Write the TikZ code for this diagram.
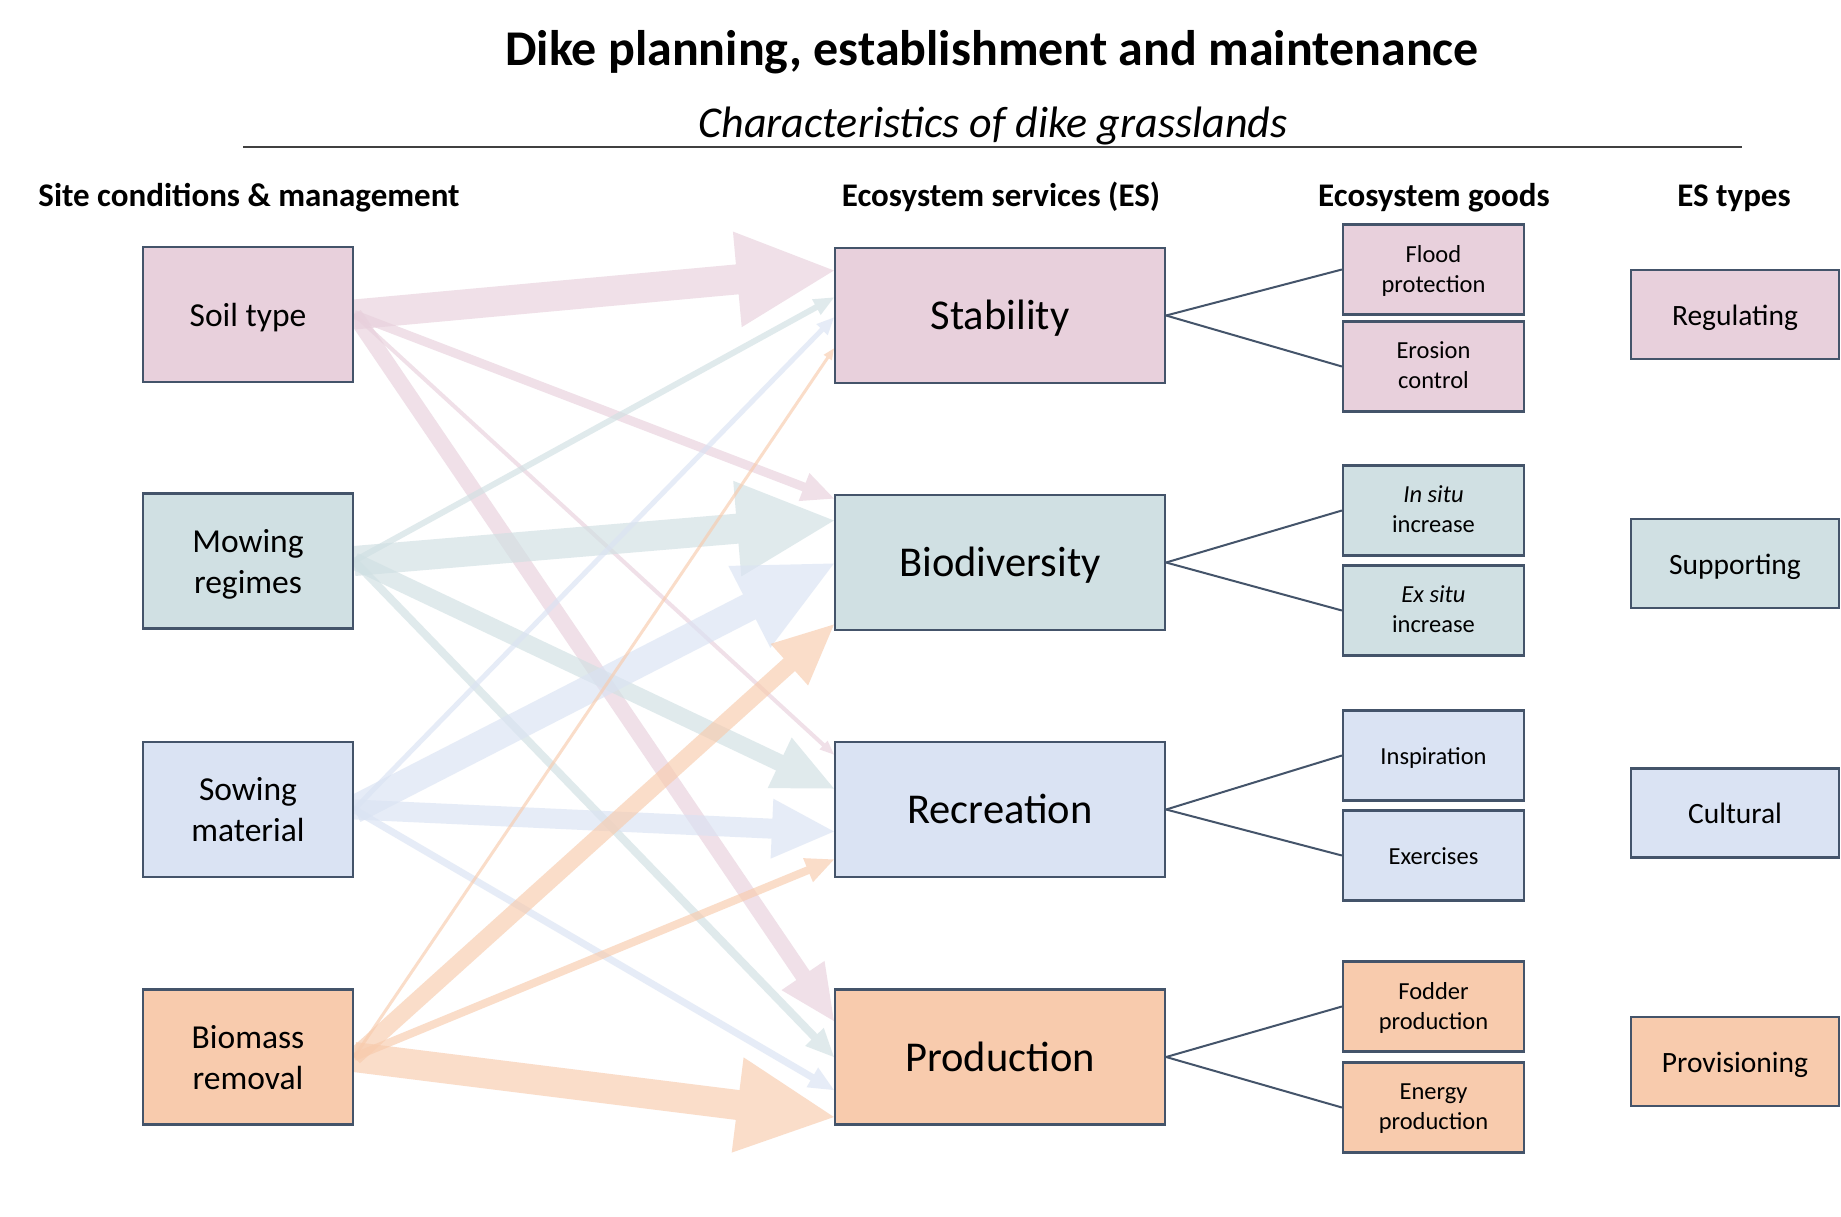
\documentclass[tikz,border=0pt]{standalone}
\usepackage{fontspec}
\setmainfont{Carlito}
\usetikzlibrary{calc}
\definecolor{cpink}{HTML}{E8D0DC}
\definecolor{cteal}{HTML}{D0E0E3}
\definecolor{cblue}{HTML}{DAE3F3}
\definecolor{corange}{HTML}{F8CBAD}
\definecolor{cborder}{HTML}{44546A}
\definecolor{crule}{HTML}{404040}
% #1 colour, #2 from, #3 to, #4 half shaft, #5 half head, #6 head length
\newcommand{\blockarrow}[6]{%
  \coordinate (ba-h) at ($#3!#6!#2$);
  \fill[#1, fill opacity=0.65] ($#2!#4!-90:#3$) -- ($(ba-h)!#4!90:#2$) -- ($(ba-h)!#5!90:#2$) -- #3 -- ($(ba-h)!#5!-90:#2$) -- ($(ba-h)!#4!-90:#2$) -- ($#2!#4!90:#3$) -- cycle;
}
\tikzset{
  bx/.style={draw=cborder, line width=2.2pt, inner sep=0pt},
  lbox/.style={bx, minimum width=210pt, minimum height=135pt},
  mbox/.style={bx, minimum width=330pt, minimum height=135pt},
  gbox/.style={bx, minimum width=181pt, minimum height=90pt},
  tbox/.style={bx, minimum width=208pt, minimum height=89pt},
  txt/.style={align=center, inner sep=0pt, execute at begin node=\strut, execute at end node=\strut},
  ltxt/.style={txt, font=\fontsize{33.5}{41}\selectfont},
  mtxt/.style={txt, font=\fontsize{42.5}{50}\selectfont},
  gtxt/.style={txt, font=\fontsize{24.5}{30}\selectfont},
  ttxt/.style={txt, font=\fontsize{29.5}{35}\selectfont},
  hdr/.style={anchor=base, font=\fontsize{33}{40}\selectfont\bfseries},
  link/.style={draw=cborder, line width=2pt}
}
\begin{document}
\begin{tikzpicture}[x=1pt,y=-1pt]
\useasboundingbox (0,0) rectangle (1841,1216);
\fill[white] (0,0) rectangle (1841,1216);

% titles
\node[anchor=base, font=\fontsize{50}{60}\selectfont\bfseries] (title) at (992,65.5) {Dike planning, establishment and maintenance};
\node[anchor=base, font=\fontsize{44}{52}\selectfont\itshape] (subtitle) at (993,137) {Characteristics of dike grasslands};
\coordinate (ruleL) at (243,147);
\coordinate (ruleR) at (1742,147);
\draw[crule, line width=2pt] (ruleL) -- (ruleR);

% headers
\node[hdr] (h1) at (249,206) {Site conditions \& management};
\node[hdr] (h2) at (1001,206) {Ecosystem services (ES)};
\node[hdr] (h3) at (1434,206) {Ecosystem goods};
\node[hdr] (h4) at (1734,206) {ES types};

% box outlines placed first (for anchors), drawn later
\path (248,314.5) node[lbox, draw=none] (soil) {};
\path (248,561) node[lbox, draw=none] (mow) {};
\path (248,809.5) node[lbox, draw=none] (sow) {};
\path (248,1057) node[lbox, draw=none] (bio) {};
\path (1000,315.5) node[mbox, draw=none] (stab) {};
\path (1000,562.5) node[mbox, draw=none] (biod) {};
\path (1000,809.5) node[mbox, draw=none] (rec) {};
\path (1000,1057) node[mbox, draw=none] (prod) {};

% arrow targets
\coordinate (stA) at ($(stab.west)+(0,-45)$);
\coordinate (stB) at ($(stab.west)+(0,-18)$);
\coordinate (stC) at ($(stab.west)+(0,2)$);
\coordinate (stD) at ($(stab.west)+(0,33)$);
\coordinate (bdA) at ($(biod.west)+(0,-64)$);
\coordinate (bdB) at ($(biod.west)+(0,-42)$);
\coordinate (bdC) at ($(biod.west)+(0,1)$);
\coordinate (bdD) at ($(biod.west)+(0,62)$);
\coordinate (rcA) at ($(rec.west)+(0,-55)$);
\coordinate (rcB) at ($(rec.west)+(0,-21)$);
\coordinate (rcC) at ($(rec.west)+(0,22)$);
\coordinate (rcD) at ($(rec.west)+(0,50)$);
\coordinate (pdA) at ($(prod.west)+(0,-36)$);
\coordinate (pdB) at ($(prod.west)+(0,0)$);
\coordinate (pdC) at ($(prod.west)+(0,33)$);
\coordinate (pdD) at ($(prod.west)+(0,60)$);

% arrows from Soil type
\blockarrow{cpink}{(soil.east)}{(stA)}{15pt}{48pt}{97pt}
\blockarrow{cpink}{(soil.east)}{(bdA)}{4.5pt}{15pt}{32pt}
\blockarrow{cpink}{(soil.east)}{(rcA)}{2pt}{6pt}{14pt}
\blockarrow{cpink}{(soil.east)}{(pdA)}{8pt}{26pt}{55pt}
% arrows from Mowing regimes
\blockarrow{cteal}{(mow.east)}{(stB)}{3pt}{9pt}{20pt}
\blockarrow{cteal}{(mow.east)}{(bdB)}{15pt}{48pt}{97pt}
\blockarrow{cteal}{(mow.east)}{(rcB)}{8.5pt}{28pt}{60pt}
\blockarrow{cteal}{(mow.east)}{(pdB)}{4pt}{13pt}{28pt}
% arrows from Sowing material
\blockarrow{cblue}{(sow.east)}{(stC)}{2.5pt}{8pt}{17pt}
\blockarrow{cblue}{(sow.east)}{(bdC)}{14pt}{46pt}{95pt}
\blockarrow{cblue}{(sow.east)}{(rcC)}{10pt}{30pt}{62pt}
\blockarrow{cblue}{(sow.east)}{(pdC)}{3.5pt}{11.5pt}{25pt}
% arrows from Biomass removal
\blockarrow{corange}{(bio.east)}{(stD)}{1.5pt}{5pt}{11pt}
\blockarrow{corange}{(bio.east)}{(bdD)}{8.5pt}{28pt}{60pt}
\blockarrow{corange}{(bio.east)}{(rcD)}{4pt}{13pt}{28pt}
\blockarrow{corange}{(bio.east)}{(pdD)}{15pt}{48pt}{97pt}

% left boxes
\node[lbox, fill=cpink] (soilB) at (soil) {};
\node[lbox, fill=cteal] (mowB) at (mow) {};
\node[lbox, fill=cblue] (sowB) at (sow) {};
\node[lbox, fill=corange] (bioB) at (bio) {};
\node[ltxt] (soilT) at ([yshift=-3.5pt]soilB.center) {Soil type};
\node[ltxt] (mowT) at ([yshift=-7pt]mowB.center) {Mowing\\regimes};
\node[ltxt] (sowT) at ([yshift=-6.5pt]sowB.center) {Sowing\\material};
\node[ltxt] (bioT) at ([yshift=-6.5pt]bioB.center) {Biomass\\removal};

% middle boxes
\node[mbox, fill=cpink] (stabB) at (stab) {};
\node[mbox, fill=cteal] (biodB) at (biod) {};
\node[mbox, fill=cblue] (recB) at (rec) {};
\node[mbox, fill=corange] (prodB) at (prod) {};
\node[mtxt] (stabT) at ([yshift=-4pt]stabB.center) {Stability};
\node[mtxt] (biodT) at ([yshift=-4pt]biodB.center) {Biodiversity};
\node[mtxt] (recT) at ([yshift=-4pt]recB.center) {Recreation};
\node[mtxt] (prodT) at ([yshift=-4pt]prodB.center) {Production};

% goods boxes
\node[gbox, fill=cpink] (flood) at (1433.5,269.5) {};
\node[gbox, fill=cpink] (eros) at (1433.5,366.5) {};
\node[gbox, fill=cteal] (insitu) at (1433.5,510.5) {};
\node[gbox, fill=cteal] (exsitu) at (1433.5,610.5) {};
\node[gbox, fill=cblue] (insp) at (1433.5,755.5) {};
\node[gbox, fill=cblue] (exer) at (1433.5,855.5) {};
\node[gbox, fill=corange] (fodder) at (1433.5,1006.5) {};
\node[gbox, fill=corange] (energy) at (1433.5,1107.5) {};
\node[gtxt] (floodT) at ([yshift=-3.5pt]flood.center) {Flood\\protection};
\node[gtxt] (erosT) at ([yshift=-3.5pt]eros.center) {Erosion\\control};
\node[gtxt] (insituT) at ([yshift=-3.5pt]insitu.center) {\textit{In situ}\\increase};
\node[gtxt] (exsituT) at ([yshift=-3.5pt]exsitu.center) {\textit{Ex situ}\\increase};
\node[gtxt] (inspT) at ([yshift=-2.5pt]insp.center) {Inspiration};
\node[gtxt] (exerT) at ([yshift=-2.5pt]exer.center) {Exercises};
\node[gtxt] (fodderT) at ([yshift=-3.5pt]fodder.center) {Fodder\\production};
\node[gtxt] (energyT) at ([yshift=-3.5pt]energy.center) {Energy\\production};

% type boxes
\node[tbox, fill=cpink] (reg) at (1735,314.5) {};
\node[tbox, fill=cteal] (supp) at (1735,563.5) {};
\node[tbox, fill=cblue] (cult) at (1735,813) {};
\node[tbox, fill=corange] (prov) at (1735,1061.5) {};
\node[ttxt] (regT) at ([yshift=-3.5pt]reg.center) {Regulating};
\node[ttxt] (suppT) at ([yshift=-3.5pt]supp.center) {Supporting};
\node[ttxt] (cultT) at ([yshift=-3pt]cult.center) {Cultural};
\node[ttxt] (provT) at ([yshift=-3.5pt]prov.center) {Provisioning};

% links
\draw[link] (stabB.east) -- (flood.west);
\draw[link] (stabB.east) -- (eros.west);
\draw[link] (biodB.east) -- (insitu.west);
\draw[link] (biodB.east) -- (exsitu.west);
\draw[link] (recB.east) -- (insp.west);
\draw[link] (recB.east) -- (exer.west);
\draw[link] (prodB.east) -- (fodder.west);
\draw[link] (prodB.east) -- (energy.west);
\end{tikzpicture}
\end{document}
